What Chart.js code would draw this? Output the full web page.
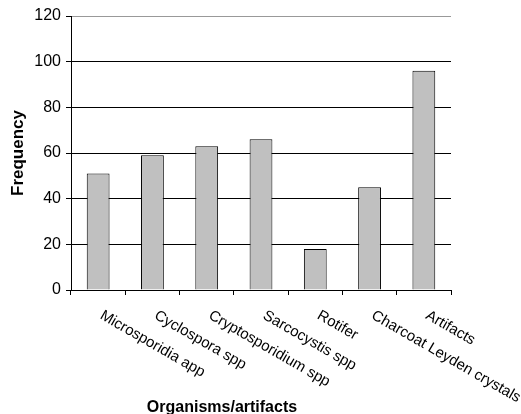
<!DOCTYPE html>
<html>
<head>
<meta charset="utf-8">
<script src="https://cdn.jsdelivr.net/npm/chart.js@4/dist/chart.umd.min.js"></script>
<style>
html,body{margin:0;padding:0;background:#fff;}
#wrap{width:521px;height:414px;position:relative;}
</style>
</head>
<body>
<div id="wrap"><canvas id="c" width="521" height="414"></canvas></div>
<script>
const categories = ["Microsporidia app","Cyclospora spp","Cryptosporidium spp","Sarcocystis spp","Rotifer","Charcoat Leyden crystals","Artifacts"];
const frequency = [51, 59, 63, 66, 18, 45, 96];
const yTicks = [0, 20, 40, 60, 80, 100, 120];
const yTitle = "Frequency";
const xTitle = "Organisms/artifacts";

const FONT = "'Liberation Sans', Arial, sans-serif";

const labelPlugin = {
  id: 'rotLabels',
  afterDraw(chart) {
    const ctx = chart.ctx;
    const xs = chart.scales.x;
    const area = chart.chartArea;
    ctx.save();
    ctx.fillStyle = '#000';
    ctx.font = '15px ' + FONT;
    ctx.textAlign = 'left';
    ctx.textBaseline = 'alphabetic';
    categories.forEach((lab, i) => {
      const px = xs.getPixelForValue(i);
      ctx.save();
      ctx.translate(px + 1, area.bottom + 28);
      ctx.rotate(30 * Math.PI / 180);
      ctx.fillText(lab, 0, 0);
      ctx.restore();
    });
    ctx.font = 'bold 16px ' + FONT;
    ctx.textAlign = 'center';
    ctx.textBaseline = 'middle';
    ctx.fillText(xTitle, 222, 408);
    ctx.restore();
  }
};

new Chart(document.getElementById('c'), {
  type: 'bar',
  data: {
    labels: categories,
    datasets: [{
      data: frequency,
      backgroundColor: '#c0c0c0',
      borderColor: '#000',
      borderWidth: 1,
      barPercentage: 0.42,
      categoryPercentage: 1
    }]
  },
  options: {
    responsive: false,
    animation: false,
    devicePixelRatio: 1,
    layout: { padding: { left: 0, top: 16, right: 70, bottom: 0 } },
    plugins: { legend: { display: false }, tooltip: { enabled: false } },
    scales: {
      x: {
        offset: true,
        afterFit: s => { s.height = 124; },
        grid: {
          offset: true,
          drawOnChartArea: true,
          drawTicks: true,
          tickLength: 5,
          color: c => (c.index === categories.length ? '#999' : 'rgba(0,0,0,0)'),
          tickColor: '#000'
        },
        border: { color: '#000', width: 1 },
        ticks: { display: false }
      },
      y: {
        min: 0, max: 120,
        afterFit: s => { s.width = 71; },
        afterBuildTicks: s => { s.ticks = yTicks.map(v => ({ value: v })); },
        grid: {
          color: c => (c.tick && c.tick.value === 120 ? '#999' : '#000'),
          tickColor: '#000',
          tickLength: 5,
          drawTicks: true
        },
        border: { color: '#000', width: 1 },
        ticks: {
          color: '#000',
          padding: 5,
          font: { family: FONT, size: 16 }
        },
        title: {
          display: true,
          text: yTitle,
          color: '#000',
          font: { family: FONT, size: 17, weight: 'bold' },
          padding: { top: 8, bottom: 0 }
        }
      }
    }
  },
  plugins: [labelPlugin]
});
</script>
</body>
</html>
